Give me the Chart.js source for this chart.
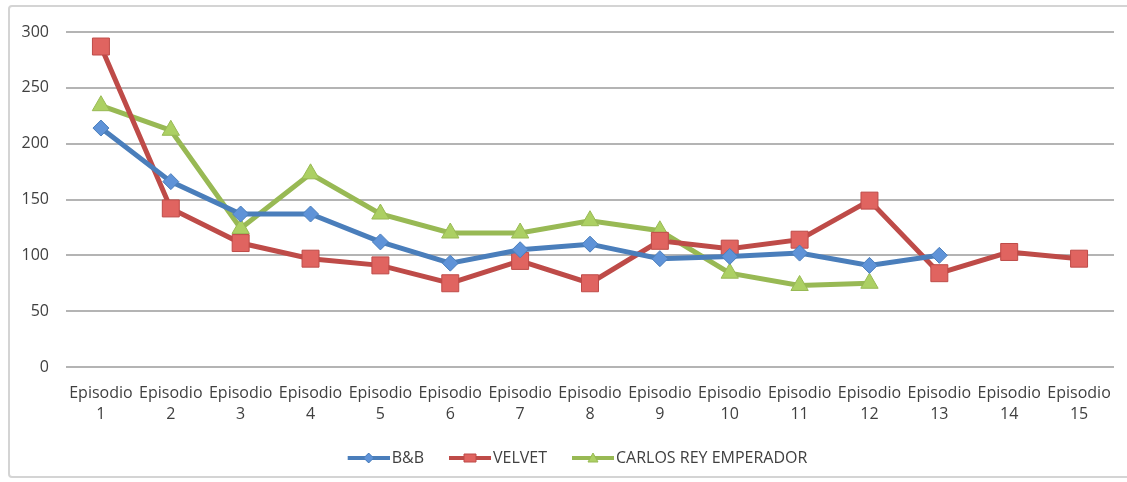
<!DOCTYPE html>
<html>
<head>
<meta charset="utf-8">
<script src="https://cdn.jsdelivr.net/npm/chart.js@4/dist/chart.umd.min.js"></script>
<style>
  html, body { margin: 0; padding: 0; background: #fff; }
  body { width: 1127px; height: 482px; position: relative; overflow: hidden; }
  .frame {
    position: absolute; left: 8px; top: 5px; width: 1140px; height: 473px;
    border: 2px solid #d4d4d4; border-radius: 4px; box-sizing: border-box;
  }
  #wrap { position: absolute; left: 0; top: 0; width: 1127px; height: 482px; }
</style>
</head>
<body>
<div class="frame"></div>
<div id="wrap"><canvas id="chart"></canvas></div>
<script>
// Episodios
const episodes = ["1", "2", "3", "4", "5", "6", "7", "8", "9", "10", "11", "12", "13", "14", "15"];
const yTicks = [0, 50, 100, 150, 200, 250, 300];

// Series
const bbValues = [214, 166, 137, 137, 112, 93, 105, 110, 97, 99, 102, 91, 100, null, null];
const velvetValues = [287, 142, 111, 97, 91, 75, 95, 75, 113, 106, 114, 149, 84, 103, 97];
const carlosValues = [234, 212, 124, 173, 137, 120, 120, 131, 122, 84, 73, 75, null, null, null];

const seriesNames = ["B&B", "VELVET", "CARLOS REY EMPERADOR"];

const colors = {
  bb: { line: "#4a7ebb", fill: "#5f93d8" },
  velvet: { line: "#be4b48", fill: "#e06460" },
  carlos: { line: "#98b954", fill: "#acd063" }
};

const tickFont = { family: "Open Sans", size: 16, lineHeight: 1.3125 };
const legendFont = { family: "Open Sans", size: 16 };

// Icono de leyenda: línea con marcador (estilo Excel).
// Hueco transparente a la izquierda = separación entre elementos.
function legendIcon(col, style) {
  const c = document.createElement("canvas");
  c.width = 73; c.height = 14;
  const g = c.getContext("2d");
  const x0 = 31, x1 = 73, cx = 52;
  g.strokeStyle = col.line;
  g.lineWidth = 4;
  g.beginPath(); g.moveTo(x0, 7); g.lineTo(x1, 7); g.stroke();
  g.fillStyle = col.fill;
  g.strokeStyle = col.line;
  g.lineWidth = 1;
  g.beginPath();
  if (style === "rectRot") {
    g.moveTo(cx, 2); g.lineTo(cx + 5, 7); g.lineTo(cx, 12); g.lineTo(cx - 5, 7);
  } else if (style === "rect") {
    g.rect(cx - 6, 3, 12, 8);
  } else {
    g.moveTo(cx, 2); g.lineTo(cx + 5, 11); g.lineTo(cx - 5, 11);
  }
  g.closePath(); g.fill(); g.stroke();
  return c;
}

function makeSet(label, data, col, style, radius) {
  return {
    label: label,
    data: data,
    borderColor: col.line,
    backgroundColor: col.fill,
    borderWidth: 5,
    pointStyle: style,
    pointRadius: radius,
    pointHoverRadius: radius,
    pointBackgroundColor: col.fill,
    pointBorderColor: col.line,
    pointBorderWidth: 1,
    spanGaps: false,
    tension: 0,
    legendIcon: legendIcon(col, style)
  };
}

const ctx = document.getElementById("chart").getContext("2d");

new Chart(ctx, {
  type: "line",
  data: {
    labels: episodes.map(n => ["Episodio", n]),
    datasets: [
      makeSet(seriesNames[0], bbValues, colors.bb, "rectRot", 8),
      makeSet(seriesNames[1], velvetValues, colors.velvet, "rect", 12),
      makeSet(seriesNames[2], carlosValues, colors.carlos, "triangle", 10)
    ]
  },
  options: {
    responsive: true,
    maintainAspectRatio: false,
    animation: false,
    layout: { padding: { left: 15, right: 12, top: 32, bottom: 6 } },
    scales: {
      x: {
        offset: true,
        grid: { display: false },
        border: { display: false },
        afterFit: axis => { axis.height += 17; },
        ticks: {
          color: "#404040",
          font: tickFont,
          maxRotation: 0,
          autoSkip: false,
          padding: 8
        }
      },
      y: {
        min: 0,
        max: 300,
        afterBuildTicks: axis => { axis.ticks = yTicks.map(v => ({ value: v })); },
        afterFit: axis => { axis.width = 51; },
        grid: { color: "#b4b4b4", lineWidth: 2, drawTicks: false },
        border: { display: false },
        ticks: {
          color: "#404040",
          font: { family: "Open Sans", size: 16 },
          padding: 17
        }
      }
    },
    plugins: {
      legend: {
        position: "bottom",
        labels: {
          usePointStyle: true,
          pointStyleWidth: 61,
          color: "#404040",
          font: legendFont,
          padding: 0,
          generateLabels: chart => chart.data.datasets.map((ds, i) => ({
            text: ds.label,
            pointStyle: ds.legendIcon,
            fillStyle: ds.backgroundColor,
            strokeStyle: ds.borderColor,
            lineWidth: 0,
            hidden: false,
            datasetIndex: i,
            fontColor: "#404040"
          }))
        }
      },
      tooltip: { enabled: false }
    }
  }
});
</script>
</body>
</html>
